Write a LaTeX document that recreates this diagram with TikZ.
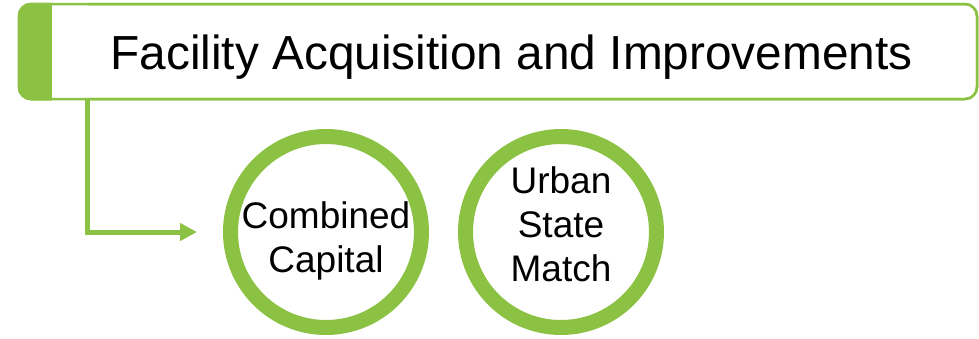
\documentclass[tikz,border=0pt]{standalone}
\usepackage{fontspec}
\setmainfont{Liberation Sans}
\usetikzlibrary{arrows.meta,calc}
\definecolor{leaf}{HTML}{8CC243}
\tikzset{
  framebox/.style={draw=leaf, line width=2.5pt, rounded corners=12pt, fill=white,
    minimum width=958pt, minimum height=95pt, inner sep=0pt},
  ring/.style={circle, draw=leaf, line width=15pt, minimum size=191pt, inner sep=0pt},
  ringtext/.style={align=center, inner sep=0pt, font=\fontsize{37pt}{44pt}\selectfont},
  conn/.style={draw=leaf, line width=5pt, -{Triangle[length=17pt,width=17pt]}},
}
\begin{document}
\begin{tikzpicture}[x=1pt,y=-1pt]
\useasboundingbox (0,0) rectangle (979,338);
\node[framebox] (frame) at (498,51.5) {};
\fill[leaf, rounded corners=13pt] (frame.north west) rectangle ($(frame.south west)+(60,0)$);
\fill[white] ($(frame.north west)+(34.5,-1.25)$) rectangle ($(frame.south west)+(70,1.25)$);
\node[framebox, fill=none] (frameline) at (frame.center) {};
\node[inner sep=0pt, font=\fontsize{47.8pt}{58pt}\selectfont] (title) at (511.5,57.5) {Facility Acquisition and Improvements};
\node[ring] (c1) at (326,232) {};
\node[ring] (c2) at (561,232) {};
\node[ringtext] (t1) at (326,241) {Combined\\Capital};
\node[ringtext] (t2) at (561,224.5) {Urban\\State\\Match};
\draw[conn] ($(frame.south west)+(70,0)$) |- ([xshift=-26pt]c1.west);
\end{tikzpicture}
\end{document}
